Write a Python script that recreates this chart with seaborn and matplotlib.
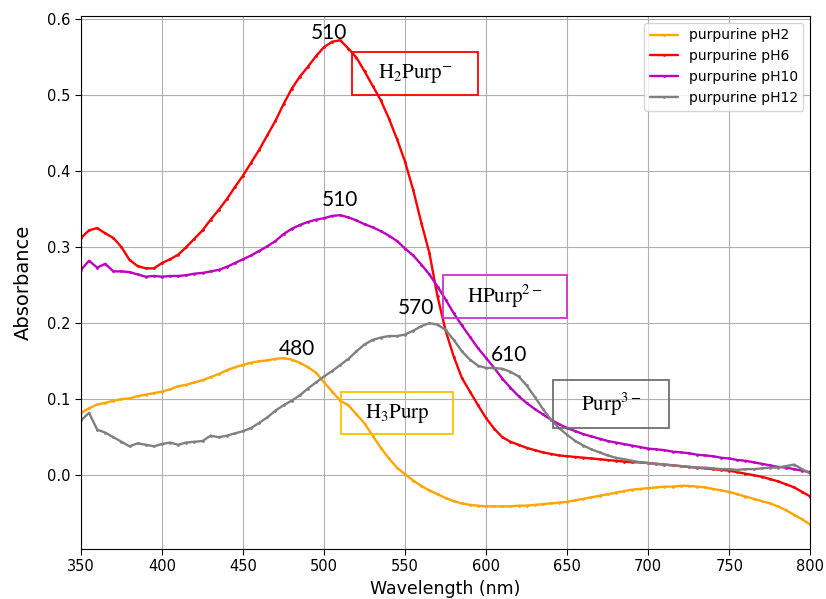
import matplotlib
matplotlib.use("Agg")
import matplotlib.pyplot as plt
from matplotlib.patches import Rectangle
import seaborn as sns

# wavelength grid (nm)
wavelength = list(range(350, 805, 5))

ph2 = [0.082, 0.088, 0.093, 0.095, 0.098, 0.100, 0.101, 0.104, 0.106, 0.108,
       0.110, 0.113, 0.117, 0.119, 0.122, 0.125, 0.129, 0.133, 0.138, 0.142,
       0.145, 0.148, 0.150, 0.151, 0.153, 0.154, 0.152, 0.148, 0.142, 0.135,
       0.122, 0.110, 0.098, 0.092, 0.080, 0.068, 0.052, 0.036, 0.022, 0.010,
       0.001, -0.007, -0.014, -0.020, -0.025, -0.030, -0.034, -0.037, -0.039, -0.040,
       -0.041, -0.041, -0.041, -0.041, -0.040, -0.040, -0.039, -0.038, -0.037, -0.036,
       -0.035, -0.033, -0.031, -0.029, -0.027, -0.025, -0.023, -0.021, -0.019, -0.018,
       -0.017, -0.016, -0.015, -0.015, -0.014, -0.014, -0.015, -0.016, -0.018, -0.020,
       -0.022, -0.025, -0.028, -0.031, -0.034, -0.037, -0.041, -0.046, -0.052, -0.058,
       -0.065]

ph6 = [0.312, 0.322, 0.325, 0.318, 0.312, 0.300, 0.283, 0.275, 0.272, 0.272,
       0.279, 0.284, 0.290, 0.300, 0.311, 0.322, 0.336, 0.349, 0.363, 0.379,
       0.394, 0.411, 0.428, 0.447, 0.466, 0.488, 0.508, 0.524, 0.537, 0.551,
       0.563, 0.570, 0.572, 0.561, 0.549, 0.531, 0.512, 0.493, 0.469, 0.442,
       0.412, 0.375, 0.332, 0.292, 0.235, 0.190, 0.156, 0.128, 0.110, 0.092,
       0.075, 0.061, 0.050, 0.044, 0.040, 0.036, 0.033, 0.030, 0.028, 0.026,
       0.025, 0.024, 0.023, 0.022, 0.021, 0.020, 0.019, 0.018, 0.017, 0.017,
       0.016, 0.015, 0.014, 0.013, 0.012, 0.011, 0.010, 0.009, 0.008, 0.007,
       0.006, 0.004, 0.002, 0.000, -0.002, -0.005, -0.008, -0.012, -0.016, -0.022,
       -0.028]

ph10 = [0.270, 0.282, 0.273, 0.278, 0.268, 0.268, 0.267, 0.264, 0.261, 0.262,
        0.261, 0.262, 0.262, 0.263, 0.265, 0.266, 0.268, 0.270, 0.274, 0.279,
        0.284, 0.289, 0.295, 0.301, 0.308, 0.317, 0.324, 0.329, 0.333, 0.336,
        0.338, 0.341, 0.342, 0.339, 0.335, 0.330, 0.326, 0.321, 0.315, 0.308,
        0.298, 0.289, 0.277, 0.264, 0.248, 0.231, 0.213, 0.197, 0.182, 0.167,
        0.154, 0.141, 0.127, 0.115, 0.104, 0.095, 0.087, 0.080, 0.073, 0.067,
        0.062, 0.058, 0.054, 0.051, 0.048, 0.045, 0.043, 0.041, 0.039, 0.037,
        0.035, 0.034, 0.033, 0.031, 0.030, 0.029, 0.027, 0.026, 0.025, 0.023,
        0.022, 0.020, 0.019, 0.017, 0.015, 0.013, 0.011, 0.010, 0.008, 0.006,
        0.004]

ph12 = [0.072, 0.082, 0.060, 0.056, 0.050, 0.044, 0.038, 0.042, 0.040, 0.038,
        0.041, 0.043, 0.040, 0.043, 0.044, 0.045, 0.052, 0.050, 0.052, 0.055,
        0.058, 0.062, 0.069, 0.076, 0.085, 0.092, 0.098, 0.105, 0.114, 0.122,
        0.130, 0.137, 0.145, 0.153, 0.163, 0.172, 0.178, 0.181, 0.183, 0.183,
        0.185, 0.190, 0.196, 0.200, 0.198, 0.191, 0.178, 0.163, 0.152, 0.144,
        0.141, 0.141, 0.140, 0.136, 0.130, 0.118, 0.103, 0.087, 0.073, 0.062,
        0.053, 0.045, 0.039, 0.034, 0.030, 0.026, 0.023, 0.021, 0.019, 0.017,
        0.016, 0.015, 0.014, 0.013, 0.012, 0.011, 0.010, 0.010, 0.009, 0.008,
        0.008, 0.007, 0.008, 0.008, 0.009, 0.010, 0.010, 0.012, 0.014, 0.008,
        0.002]

series = [("purpurine pH2", ph2, "#FFA500"),
          ("purpurine pH6", ph6, "#FF0000"),
          ("purpurine pH10", ph10, "#BF00BF"),
          ("purpurine pH12", ph12, "#808080")]

# peak labels
peak_x = [503, 510, 483, 557, 614]
peak_y = [0.568, 0.349, 0.153, 0.207, 0.145]
peak_text = ["510", "510", "480", "570", "610"]

# species boxes
box_x0 = [517.5, 573.5, 510.5, 641.5]
box_x1 = [595.0, 650.0, 579.5, 713.0]
box_y0 = [0.500, 0.207, 0.054, 0.062]
box_y1 = [0.557, 0.263, 0.109, 0.125]
box_text = [r"$\mathrm{H_2Purp^{-}}$", r"$\mathrm{HPurp^{2-}}$",
            r"$\mathrm{H_3Purp}$", r"$\mathrm{Purp^{3-}}$"]
box_color = ["#FF0000", "#CC33CC", "#FFC000", "#707070"]

sns.set_style("ticks", {"axes.grid": True, "grid.color": "#b0b0b0",
                        "axes.edgecolor": "black", "text.color": "black",
                        "axes.labelcolor": "black", "xtick.color": "black",
                        "ytick.color": "black"})
plt.rcParams["font.family"] = ["DejaVu Sans"]
plt.rcParams["mathtext.fontset"] = "stix"

fig = plt.figure(figsize=(8.26, 5.99), dpi=100)
ax = fig.add_axes([0.098, 0.0835, 0.883, 0.89])

for name, vals, col in series:
    sns.lineplot(x=wavelength, y=vals, ax=ax, color=col, label=name,
                 marker=".", markersize=4, markeredgewidth=0, linewidth=1.7)

for x, y, t in zip(peak_x, peak_y, peak_text):
    ax.text(x, y, t, fontsize=15, family="Lato", ha="center", va="bottom",
            color="black")

for x0, x1, y0, y1, t, c in zip(box_x0, box_x1, box_y0, box_y1, box_text, box_color):
    ax.add_patch(Rectangle((x0, y0), x1 - x0, y1 - y0, fill=False,
                           edgecolor=c, linewidth=1.3, zorder=5))
    ax.text((x0 + x1) / 2, (y0 + y1) / 2, t, fontsize=15, ha="center",
            va="center", zorder=6, color="black")

ax.set_xlim(350, 800)
ax.set_ylim(-0.097, 0.604)
ax.set_xticks(range(350, 801, 50))
ax.set_yticks([0.0, 0.1, 0.2, 0.3, 0.4, 0.5, 0.6])
ax.tick_params(labelsize=10.5, direction="out", length=4, color="black")
ax.set_xlabel("Wavelength (nm)", fontsize=12.5)
ax.set_ylabel("Absorbance", fontsize=14, labelpad=10)
ax.legend(loc="upper right", fontsize=10, framealpha=0.8)

fig.savefig("out.png", dpi=100)
